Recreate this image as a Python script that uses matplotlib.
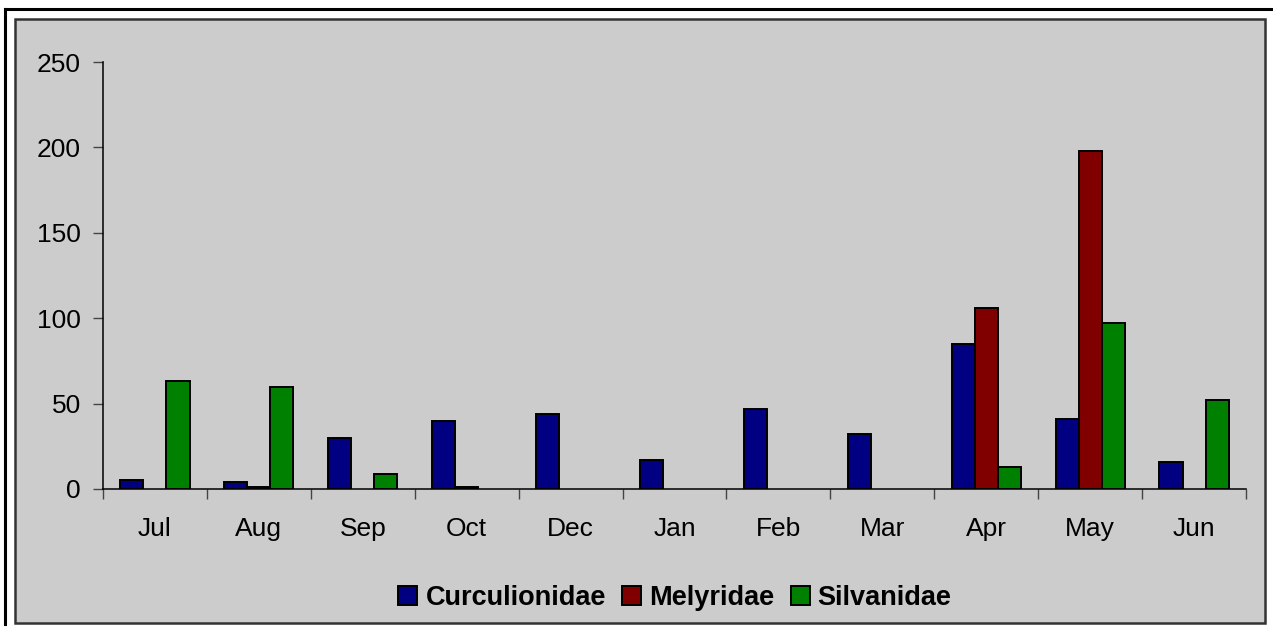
import matplotlib.pyplot as plt
import numpy as np
from matplotlib.patches import Rectangle
from matplotlib.lines import Line2D

months = ["Jul", "Aug", "Sep", "Oct", "Dec", "Jan", "Feb", "Mar", "Apr", "May", "Jun"]
curculionidae = [5, 4, 30, 40, 44, 17, 47, 32, 85, 41, 16]
melyridae = [0, 1, 0, 1, 0, 0, 0, 0, 106, 198, 0]
silvanidae = [63, 60, 9, 0, 0, 0, 0, 0, 13, 97, 52]

series = [("Curculionidae", curculionidae, "#000080"),
          ("Melyridae", melyridae, "#800000"),
          ("Silvanidae", silvanidae, "#008000")]

plt.rcParams['font.family'] = ['Liberation Sans', 'DejaVu Sans']
bg = "#cccccc"

fig = plt.figure(figsize=(12.73, 6.28), dpi=100)
W, H = 1273, 628

# outer frame lines and gray chart area
fig.add_artist(Line2D([5 / W, 5 / W], [1 - 9 / H, 1 - 624 / H], color="black", lw=2.2,
                      transform=fig.transFigure))
fig.add_artist(Line2D([5 / W, 1.0], [1 - 9 / H, 1 - 9 / H], color="black", lw=2.2,
                      transform=fig.transFigure))
fig.add_artist(Rectangle((15 / W, 1 - 623 / H), (1265 - 15) / W, (623 - 19) / H,
                         transform=fig.transFigure, facecolor=bg, edgecolor="#333333",
                         lw=1.8, zorder=0))

ax = fig.add_axes([103 / W, 1 - 489 / H, (1246 - 103) / W, (489 - 62) / H])
ax.set_facecolor(bg)
ax.patch.set_alpha(0)

x = np.arange(len(months))
width = 0.222
for i, (name, vals, col) in enumerate(series):
    v = np.array(vals, dtype=float)
    v = np.where(v > 0, v, np.nan)  # empty months show no bar
    ax.bar(x + (i - 1) * width, v, width, color=col, edgecolor="black",
           linewidth=1.4, label=name, zorder=3)

ax.set_xlim(-0.5, len(months) - 0.5)
ax.set_ylim(0, 250)
ax.set_yticks(range(0, 251, 50))
ax.set_xticks(x)
ax.set_xticklabels(months)
ax.set_xticks(np.arange(-0.5, len(months), 1), minor=True)
ax.tick_params(axis="x", which="major", length=0, pad=20, labelsize=19)
ax.tick_params(axis="x", which="minor", length=7, width=1, color="#444444")
ax.tick_params(axis="y", length=7, width=1, color="#444444", labelsize=19, pad=9)
for s in ["top", "right"]:
    ax.spines[s].set_visible(False)
for s in ["left", "bottom"]:
    ax.spines[s].set_color("black")
    ax.spines[s].set_linewidth(1.1)

handles, labels = ax.get_legend_handles_labels()
fig.legend(handles, labels, loc="center", bbox_to_anchor=(675 / W, 1 - 598 / H),
           ncol=3, frameon=False, prop={"weight": "bold", "size": 19.5},
           handlelength=0.7, handleheight=0.7, handletextpad=0.3, columnspacing=0.6)

fig.savefig("out.png", dpi=100, facecolor="white")
